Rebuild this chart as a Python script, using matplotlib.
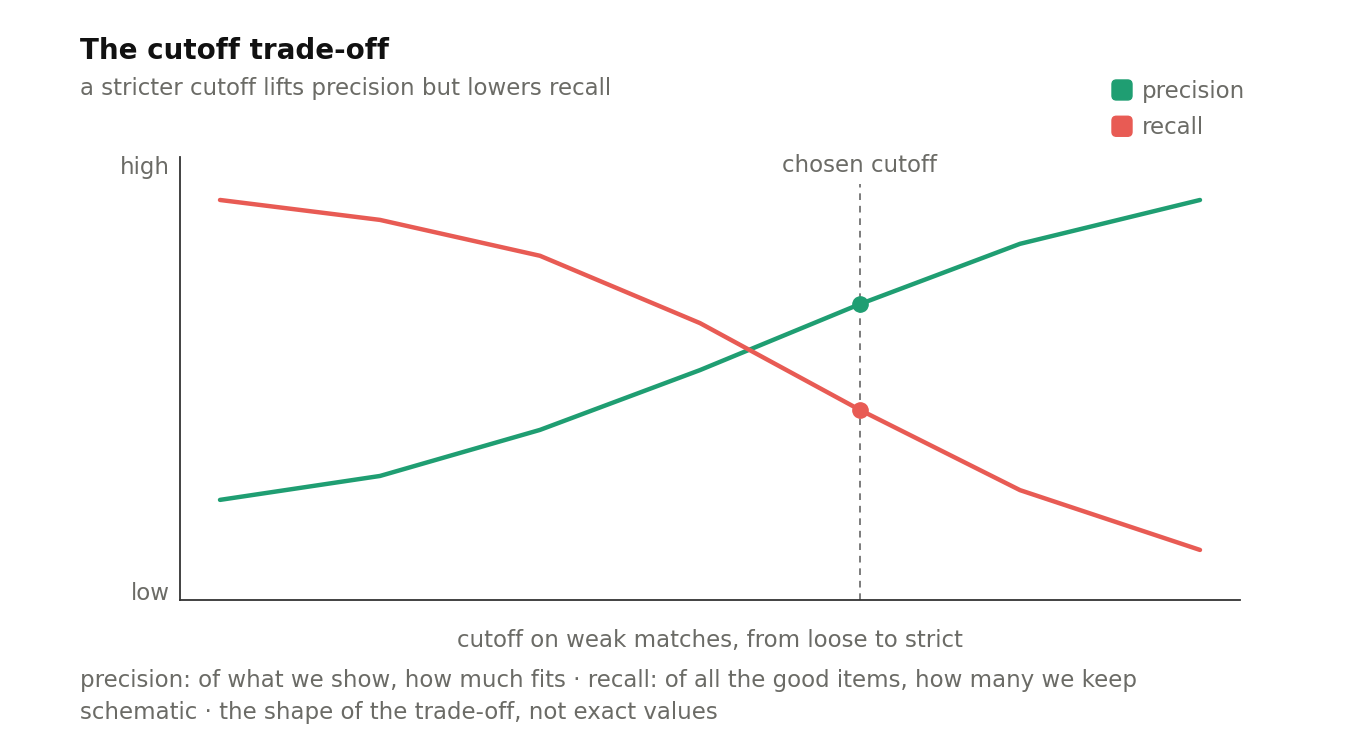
import matplotlib.pyplot as plt
from matplotlib.patches import FancyBboxPatch
from matplotlib.legend_handler import HandlerPatch

# schematic values (0 = low, 1 = high)
cutoff = [0, 1, 2, 3, 4, 5, 6.125]
precision = [0.226, 0.280, 0.384, 0.519, 0.668, 0.804, 0.903]
recall = [0.903, 0.858, 0.777, 0.625, 0.429, 0.248, 0.113]
chosen = 4

green = '#1f9e72'
red = '#e85b54'
grey = '#6b6b66'
ink = '#333333'
fs = 16.5

plt.rcParams['font.family'] = ['DejaVu Sans']

fig = plt.figure(figsize=(13.6, 7.36), dpi=100)
ax = fig.add_axes([180/1360, 1-600/736, 1060/1360, 443/736])

ax.plot(cutoff, precision, color=green, lw=3.2, solid_capstyle='round', label='precision')
ax.plot(cutoff, recall, color=red, lw=3.2, solid_capstyle='round', label='recall')

i = cutoff.index(chosen)
ax.plot(chosen, precision[i], 'o', color=green, ms=11)
ax.plot(chosen, recall[i], 'o', color=red, ms=11)
ax.plot([chosen, chosen], [0, 0.94], color='#666666', lw=1.2, ls=(0, (4, 3.5)), zorder=1)
ax.text(chosen, 0.980, 'chosen cutoff', ha='center', va='center', fontsize=fs, color=grey)

ax.set_xlim(-0.25, 6.375)
ax.set_ylim(0, 1)
ax.set_xticks([])
ax.set_yticks([])
for s in ['top', 'right']:
    ax.spines[s].set_visible(False)
for s in ['left', 'bottom']:
    ax.spines[s].set_color(ink)
    ax.spines[s].set_linewidth(1.3)

ax.text(-0.010, 0.977, 'high', transform=ax.transAxes, ha='right', va='center', fontsize=fs, color=grey)
ax.text(-0.010, 0.0155, 'low', transform=ax.transAxes, ha='right', va='center', fontsize=fs, color=grey)
ax.set_xlabel('cutoff on weak matches, from loose to strict', fontsize=fs, color=grey, labelpad=21)

fig.text(80/1360, 1-51/736, 'The cutoff trade-off', fontsize=20, fontweight='bold', color='#111111', va='center')
fig.text(80/1360, 1-89/736, 'a stricter cutoff lifts precision but lowers recall', fontsize=fs, color=grey, va='center')
fig.text(80/1360, 1-681/736, 'precision: of what we show, how much fits \u00b7 recall: of all the good items, how many we keep',
         fontsize=fs, color=grey, va='center')
fig.text(80/1360, 1-713/736, 'schematic \u00b7 the shape of the trade-off, not exact values',
         fontsize=fs, color=grey, va='center')


def rounded_square(legend, orig_handle, xdescent, ydescent, width, height, fontsize):
    s = 20 * 72 / 100
    return FancyBboxPatch((0, -ydescent + (height - s) / 2), s, s,
                          boxstyle='round,pad=0,rounding_size=%f' % (s * 0.22))


handles = [FancyBboxPatch((0, 0), 1, 1, color=green), FancyBboxPatch((0, 0), 1, 1, color=red)]
leg = fig.legend(handles, ['precision', 'recall'], loc='upper left', bbox_to_anchor=(1112/1360, 1-80/736),
                 frameon=False, fontsize=fs, handlelength=0.87, handletextpad=0.43, labelspacing=0.58,
                 borderpad=0, borderaxespad=0,
                 handler_map={FancyBboxPatch: HandlerPatch(patch_func=rounded_square)})
for t in leg.get_texts():
    t.set_color(grey)

fig.savefig('out.png', dpi=100, facecolor='white')
